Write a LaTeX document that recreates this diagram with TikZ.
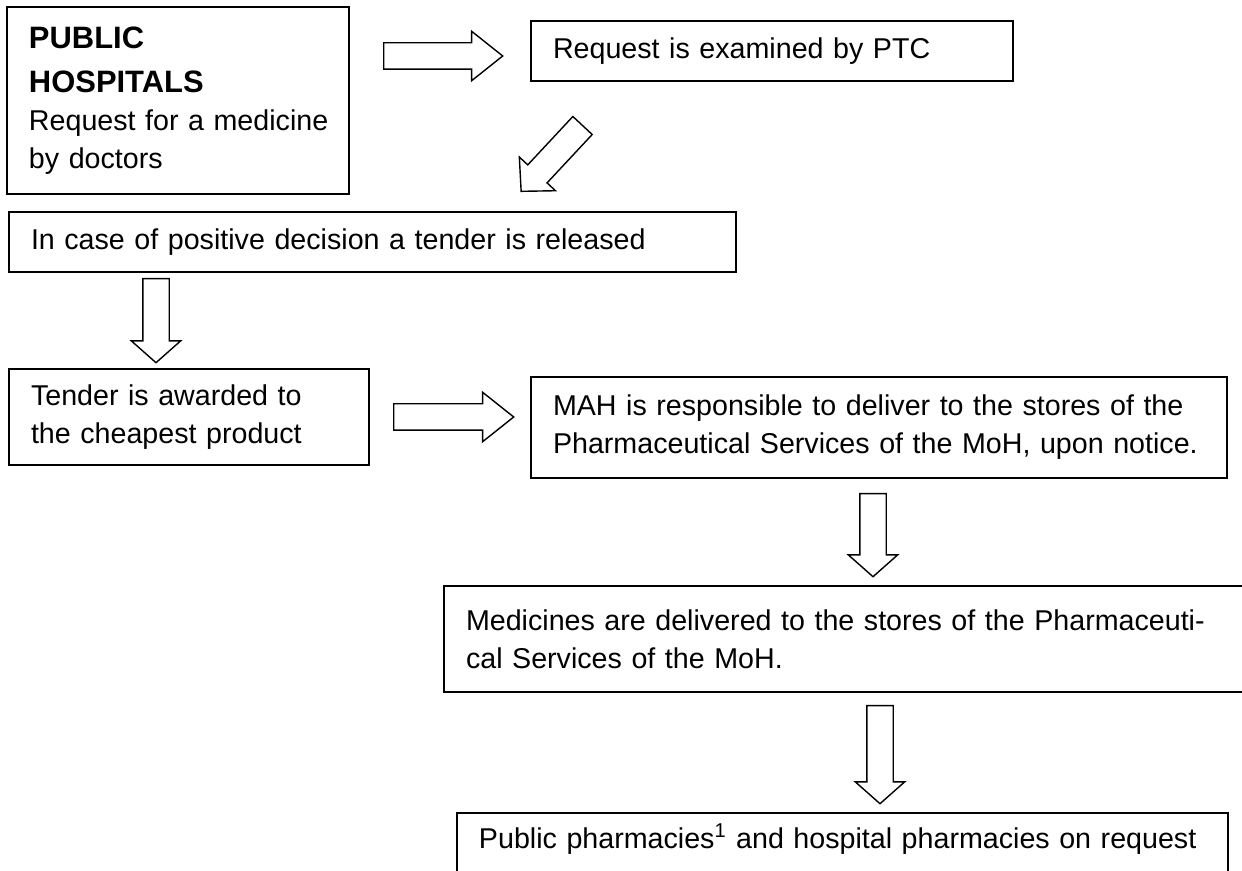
\documentclass[tikz,border=0pt]{standalone}
\usepackage{fontspec}
\setmainfont{Liberation Sans}
\usetikzlibrary{positioning,shapes.arrows}

\begin{document}
\begin{tikzpicture}[
    every node/.style={font=\fontsize{16.3}{21.6}\selectfont},
    stage/.style={draw, rectangle, line width=1.1pt, inner xsep=0.44cm, inner ysep=0pt, align=left},
    hollow/.style={draw, single arrow, line width=0.8pt, minimum width=0pt, inner xsep=0pt, inner ysep=0.25cm,
                   single arrow head extend=0.23cm, single arrow head indent=0pt, anchor=tail}
  ]
  \useasboundingbox (0,0) rectangle (24.84,-17.42);
  \clip (0,0) rectangle (24.84,-17.42);

  \node[stage, text width=5.96cm, minimum height=3.74cm] (hosp) at (3.56,-2.01)
    {{\fontsize{17.6}{21.6}\selectfont\bfseries PUBLIC}\\[0.12cm]{\fontsize{17.6}{21.6}\selectfont\bfseries HOSPITALS}\\\mbox{Request for a medicine}\\by doctors};
  \node[stage, text width=8.76cm, minimum height=1.2cm] (exam) at (15.44,-1.02) {Request is examined by PTC};
  \node[stage, text width=13.66cm, minimum height=1.2cm] (release) at (7.45,-4.84) {In case of positive decision a tender is released};
  \node[stage, text width=6.32cm, minimum height=1.92cm] (award) at (3.78,-8.34) {Tender is awarded to\\the cheapest product};
  \node[stage, text width=13.04cm, minimum height=2.02cm] (mah) at (17.58,-8.55)
    {\mbox{MAH is responsible to deliver to the stores of the}\\\mbox{Pharmaceutical Services of the MoH, upon notice.}};
  \node[stage, text width=15.16cm, minimum height=2.12cm] (stores) at (16.9,-12.78)
    {\mbox{Medicines are delivered to the stores of the Pharmaceuti-}\\cal Services of the MoH.};
  \node[stage, text width=14.54cm, anchor=north west, inner ysep=0.3cm, text height=0.42cm, text depth=1.5cm] (pharm) at (9.12,-16.24)
    {\mbox{Public pharmacies\textsuperscript{1} and hospital pharmacies on request}};

  % hollow block arrows
  \node[hollow, minimum height=2.38cm, single arrow tip angle=77] (a1) at (7.66,-1.12) {};
  \node[hollow, minimum height=1.8cm, rotate=227, single arrow tip angle=92] (a2) at (11.66,-2.5) {};
  \node[hollow, minimum height=1.68cm, rotate=-90, single arrow tip angle=97] (a3) at (3.12,-5.56) {};
  \node[hollow, minimum height=2.4cm, single arrow tip angle=77] (a4) at (7.86,-8.34) {};
  \node[hollow, minimum height=1.66cm, rotate=-90, single arrow tip angle=97] (a5) at (17.46,-9.86) {};
  \node[hollow, minimum height=1.96cm, rotate=-90, single arrow tip angle=97] (a6) at (17.6,-14.1) {};
\end{tikzpicture}
\end{document}
